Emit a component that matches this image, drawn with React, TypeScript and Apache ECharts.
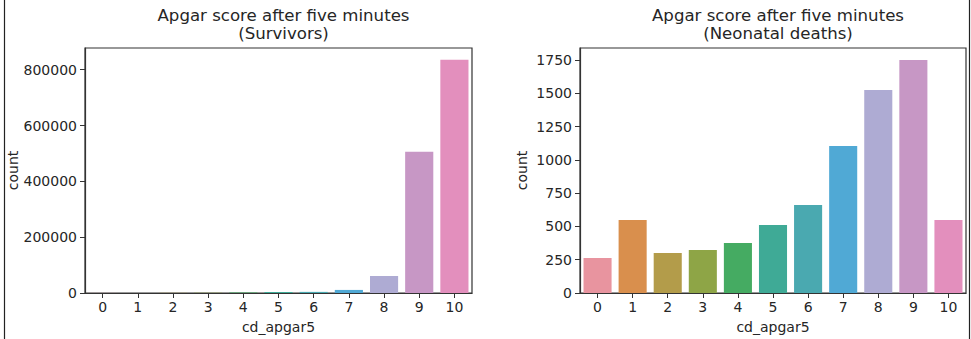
import React, { useEffect, useRef } from "react";
import * as echarts from "echarts";

const categories = ["0", "1", "2", "3", "4", "5", "6", "7", "8", "9", "10"];
const survivorCounts = [300, 400, 600, 900, 1500, 3500, 4000, 11000, 61000, 506000, 836000];
const deathCounts = [263, 549, 301, 323, 376, 511, 662, 1105, 1527, 1752, 549];
const barColors = [
  "#e8949f", "#d98f4d", "#b39c4a", "#8ea546", "#45ab62", "#3faa96",
  "#4aa9b0", "#50a9d5", "#aeabd3", "#c797c5", "#e38fbd",
];
const survivorTicks = [0, 200000, 400000, 600000, 800000];
const deathTicks = [0, 250, 500, 750, 1000, 1250, 1500, 1750];
const titleLeft = "Apgar score after five minutes\n(Survivors)";
const titleRight = "Apgar score after five minutes\n(Neonatal deaths)";

const FONT = "DejaVu Sans";
const TXT = "#262626";

export default function App() {
  const ref = useRef<HTMLDivElement>(null);
  useEffect(() => {
    const chart = echarts.init(ref.current!, null, { renderer: "svg" });
    const grids = [
      { left: 85, top: 48, width: 387, height: 245 },
      { left: 580, top: 48, width: 386, height: 245 },
    ];
    const mkX = (i: number) => ({
      type: "category",
      gridIndex: i,
      data: categories,
      name: "cd_apgar5",
      nameLocation: "middle",
      nameGap: 27,
      nameTextStyle: { fontFamily: FONT, fontSize: 14, color: TXT },
      axisLine: { show: true, lineStyle: { color: "#333", width: 1.2 } },
      axisTick: { show: true, alignWithLabel: true, length: 5, lineStyle: { color: "#333" } },
      axisLabel: { fontFamily: FONT, fontSize: 14, color: TXT, margin: 7 },
    });
    const mkY = (i: number, max: number, ticks: number[]) => ({
      type: "value",
      gridIndex: i,
      min: 0,
      max,
      name: "count",
      nameLocation: "middle",
      nameGap: i === 0 ? 63 : 51,
      nameTextStyle: { fontFamily: FONT, fontSize: 14, color: TXT },
      splitLine: { show: false },
      axisLine: { show: true, lineStyle: { color: "#333", width: 1.2 } },
      axisTick: { show: true, length: 5, customValues: ticks, lineStyle: { color: "#333" } },
      axisLabel: {
        fontFamily: FONT,
        fontSize: 14,
        color: TXT,
        margin: 8,
        customValues: ticks,
        formatter: (v: number) => String(v),
      },
    });
    const mkSeries = (i: number, vals: number[]) => ({
      type: "bar",
      xAxisIndex: i,
      yAxisIndex: i,
      barCategoryGap: "20%",
      data: vals.map((v, k) => ({ value: v, itemStyle: { color: barColors[k] } })),
    });
    const titleStyle = { fontFamily: FONT, fontSize: 16.6, fontWeight: "normal", color: TXT, lineHeight: 18 };
    chart.setOption({
      animation: false,
      backgroundColor: "#ffffff",
      title: [
        { text: titleLeft, left: 278.5, top: 1, textAlign: "center", textStyle: titleStyle },
        { text: titleRight, left: 773, top: 1, textAlign: "center", textStyle: titleStyle },
      ],
      grid: grids.map((g) => ({ ...g, show: true, borderColor: "#333", borderWidth: 1.2, backgroundColor: "transparent" })),
      xAxis: [mkX(0), mkX(1)],
      yAxis: [mkY(0, 877700, survivorTicks), mkY(1, 1842, deathTicks)],
      series: [mkSeries(0, survivorCounts), mkSeries(1, deathCounts)],
      graphic: [
        { type: "line", shape: { x1: 4.5, y1: 0, x2: 4.5, y2: 339 }, style: { stroke: "#222", lineWidth: 1.2 } },
        { type: "line", shape: { x1: 969.5, y1: 0, x2: 969.5, y2: 339 }, style: { stroke: "#222", lineWidth: 1.2 } },
      ],
    });
    return () => chart.dispose();
  }, []);
  return (
    <div
      ref={ref}
      style={{ position: "fixed", left: 0, top: 0, width: 971, height: 339, background: "#fff" }}
    />
  );
}
